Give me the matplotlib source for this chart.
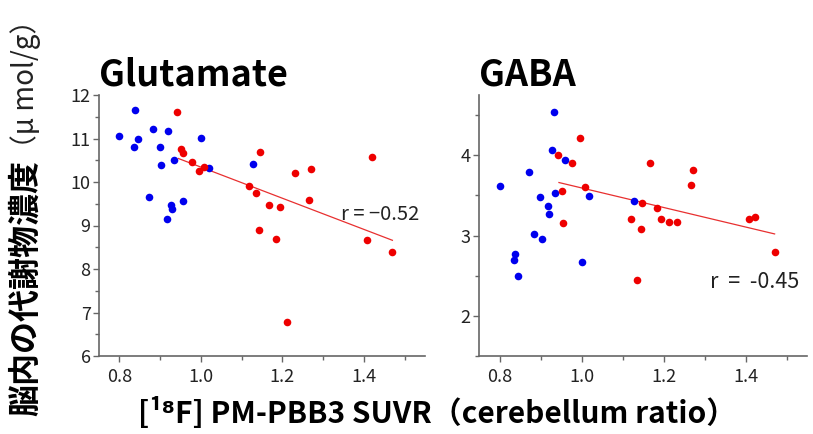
import matplotlib
matplotlib.use("Agg")
import matplotlib.pyplot as plt
from matplotlib.ticker import MultipleLocator
import numpy as np

plt.rcParams['font.family'] = ['Noto Sans CJK JP', 'DejaVu Sans']

# ---- data ----
glu_blue_x = [0.800, 0.838, 0.845, 0.836, 0.883, 0.920, 0.899, 0.902, 0.935, 0.872,
              0.927, 0.930, 0.917, 0.957, 1.000, 1.019, 1.127]
glu_blue_y = [11.06, 11.65, 10.99, 10.80, 11.22, 11.17, 10.80, 10.39, 10.50, 9.66,
              9.46, 9.39, 9.14, 9.56, 11.01, 10.32, 10.41]
glu_red_x = [0.942, 0.951, 0.955, 0.978, 0.996, 1.008, 1.146, 1.119, 1.136, 1.167,
             1.193, 1.143, 1.184, 1.212, 1.231, 1.271, 1.265, 1.420, 1.407, 1.470]
glu_red_y = [11.62, 10.76, 10.66, 10.47, 10.26, 10.34, 10.69, 9.90, 9.74, 9.48,
             9.43, 8.89, 8.68, 6.79, 10.20, 10.30, 9.59, 10.57, 8.66, 8.38]
glu_fit_x = [0.945, 1.470]
glu_fit_y = [10.54, 8.66]

gaba_blue_x = [0.800, 0.838, 0.835, 0.844, 0.871, 0.883, 0.903, 0.898, 0.918, 0.920,
               0.935, 0.928, 0.932, 0.960, 1.001, 1.019, 1.127]
gaba_blue_y = [3.62, 2.77, 2.70, 2.49, 3.79, 3.02, 2.96, 3.48, 3.37, 3.27,
               3.53, 4.06, 4.54, 3.94, 2.67, 3.49, 3.43]
gaba_red_x = [0.942, 0.953, 0.956, 0.978, 0.997, 1.009, 1.120, 1.144, 1.136, 1.147,
              1.168, 1.185, 1.194, 1.213, 1.233, 1.266, 1.272, 1.408, 1.422, 1.472]
gaba_red_y = [4.00, 3.56, 3.16, 3.90, 4.22, 3.61, 3.20, 3.08, 2.45, 3.40,
              3.90, 3.34, 3.20, 3.17, 3.17, 3.63, 3.81, 3.20, 3.23, 2.79]
gaba_fit_x = [0.945, 1.471]
gaba_fit_y = [3.66, 3.02]

xticks = [0.8, 1.0, 1.2, 1.4]
xticklabels = ["0.8", "1.0", "1.2", "1.4"]
glu_yticks = [6, 7, 8, 9, 10, 11, 12]
gaba_yticks = [2, 3, 4]

titles = ["Glutamate", "GABA"]
r_texts = ["r = \u22120.52", "r  =  -0.45"]
ylabel_jp = "脳内の代謝物濃度"
ylabel_unit = "（μ mol/g）"
xlabel = "[¹⁸F] PM-PBB3 SUVR（cerebellum ratio）"

W, H = 813, 434
fig = plt.figure(figsize=(W / 100, H / 100), dpi=100)

def px_axes(x0, y0, x1, y1):
    return fig.add_axes([x0 / W, 1 - y1 / H, (x1 - x0) / W, (y1 - y0) / H])

ax1 = px_axes(99, 95, 425, 356)
ax2 = px_axes(479, 95, 807, 356)

BLUE = "#0000ee"
RED = "#ee0000"
SPINE = "#666666"

panels = [
    (ax1, glu_blue_x, glu_blue_y, glu_red_x, glu_red_y, glu_fit_x, glu_fit_y,
     (6, 12), glu_yticks, (1.345, 9.26), titles[0], r_texts[0], 14.5),
    (ax2, gaba_blue_x, gaba_blue_y, gaba_red_x, gaba_red_y, gaba_fit_x, gaba_fit_y,
     (1.5, 4.75), gaba_yticks, (1.314, 2.42), titles[1], r_texts[1], 15.5),
]

for (ax, bx, by, rx, ry, fx, fy, ylim, yt, rpos, title, rtxt, rfs) in panels:
    ax.scatter(bx, by, s=30, color=BLUE, linewidths=0, zorder=3)
    ax.scatter(rx, ry, s=30, color=RED, linewidths=0, zorder=3)
    ax.plot(fx, fy, color="#e83030", lw=0.9, zorder=2)
    ax.set_xlim(0.75, 1.55)
    ax.set_ylim(*ylim)
    ax.set_xticks(xticks)
    ax.set_xticklabels(xticklabels)
    ax.set_yticks(yt)
    ax.xaxis.set_minor_locator(MultipleLocator(0.1))
    ax.yaxis.set_minor_locator(MultipleLocator(0.5))
    for s in ["top", "right"]:
        ax.spines[s].set_visible(False)
    for s in ["left", "bottom"]:
        ax.spines[s].set_color(SPINE)
        ax.spines[s].set_linewidth(1.2)
    ax.tick_params(which="both", direction="out", color=SPINE, width=1.0,
                   labelsize=13, labelcolor="#222222")
    ax.tick_params(which="major", length=4)
    ax.tick_params(which="minor", length=3)
    ax.tick_params(axis="x", pad=5)
    ax.tick_params(axis="y", pad=2)
    ax.text(rpos[0], rpos[1], rtxt, fontsize=rfs, color="#222222",
            ha="left", va="center", clip_on=False)
    ax.text(0.0, 1.038, title, transform=ax.transAxes, fontsize=26,
            fontweight="bold", ha="left", va="baseline")

fig.text(26 / W, 1 - 416 / H, ylabel_jp, rotation=90, fontsize=23,
         fontweight="bold", ha="center", va="bottom")
fig.text(26 / W, 1 - 6 / H, ylabel_unit, rotation=90, fontsize=20,
         color="#222222", ha="center", va="top")
fig.text(437 / W, 1 - 413 / H, xlabel, fontsize=21.5, fontweight="bold",
         ha="center", va="center")

fig.savefig("out.png", dpi=100)
